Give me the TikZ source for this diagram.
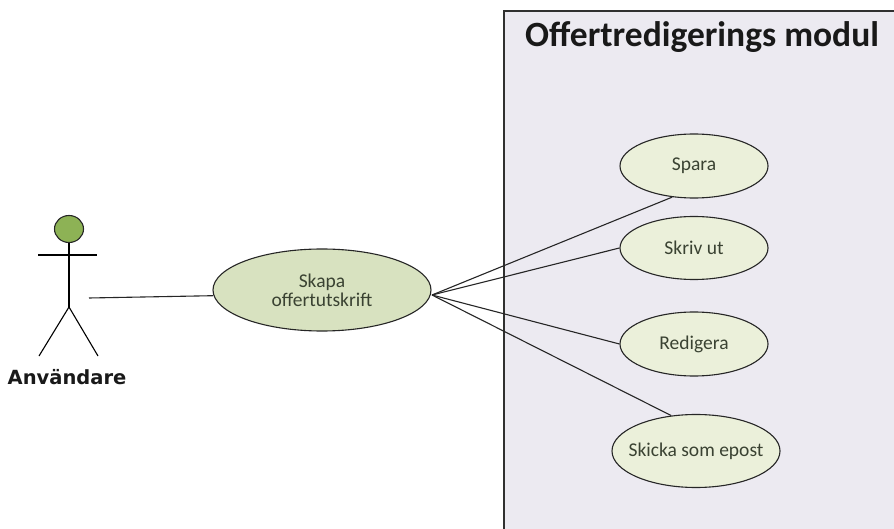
\documentclass[tikz,border=0pt]{standalone}
\usepackage{fontspec}
\setmainfont{Carlito}
\newfontfamily\actorfont{DejaVu Sans}
\usetikzlibrary{shapes.geometric}
\definecolor{boxfill}{HTML}{ECEAF1}
\definecolor{boxline}{HTML}{303030}
\definecolor{ucfill}{HTML}{EBF0DA}
\definecolor{mainfill}{HTML}{D8E2C0}
\definecolor{uctext}{HTML}{3A4232}
\definecolor{headfill}{HTML}{8DB255}
\tikzset{
  usecase/.style={ellipse, draw=black!85, line width=1.1pt, fill=ucfill, inner sep=0pt,
    text=uctext, font=\fontsize{19.5}{21}\selectfont, align=center},
  conn/.style={draw=black!85, line width=1.1pt},
  stick/.style={draw=black, line width=1.1pt}
}
\begin{document}
\begin{tikzpicture}[x=1pt,y=-1pt]
\useasboundingbox (0,0) rectangle (894,529);
\fill[white] (0,0) rectangle (894,529);
% system boundary
\fill[boxfill] (504,11) rectangle (894,529);
\draw[boxline, line width=1.4pt] (894,11) -- (504,11) -- (504,529);
\node[anchor=base west, inner sep=0pt, font=\fontsize{35.5}{40}\selectfont\bfseries, text=black!90] (title) at (525,47) {Offertredigerings modul};
% actor
\node[ellipse, draw=black!85, line width=1.1pt, fill=headfill, minimum width=29pt, minimum height=27pt, inner sep=0pt] (head) at (69,229) {};
\coordinate (hip) at (69,307);
\coordinate (armL) at (38,255);
\coordinate (armR) at (97,255);
\coordinate (legL) at (39,356);
\coordinate (legR) at (98,356);
\coordinate (hand) at (89,298);
\draw[stick] (head.south) -- (hip);
\draw[stick] (armL) -- (armR);
\draw[stick] (legL) -- (hip) -- (legR);
\node[font=\actorfont\fontsize{19.5}{22}\selectfont\bfseries, text=black!90, inner sep=0pt] (actor) at (67,377) {Användare};
% use cases
\node[usecase, fill=mainfill, minimum width=218pt, minimum height=82pt] (skapa) at (322,290) {Skapa\\[-2pt]offertutskrift};
\node[usecase, minimum width=148pt, minimum height=64pt] (spara) at (694,166) {Spara};
\node[usecase, minimum width=148pt, minimum height=63pt] (skriv) at (694,248) {Skriv ut};
\node[usecase, minimum width=148pt, minimum height=64pt] (redig) at (694,344) {Redigera};
\node[usecase, inner xsep=-14pt, minimum width=168pt, minimum height=73pt] (skicka) at (696,451) {Skicka som epost};
% connectors
\coordinate (hub) at (432,295);
\draw[conn] (hand) -- (skapa.183);
\draw[conn] (hub) -- (spara.-125);
\draw[conn] (hub) -- (skriv.west);
\draw[conn] (hub) -- (redig.west);
\draw[conn] (hub) -- (skicka.125);
\end{tikzpicture}
\end{document}
